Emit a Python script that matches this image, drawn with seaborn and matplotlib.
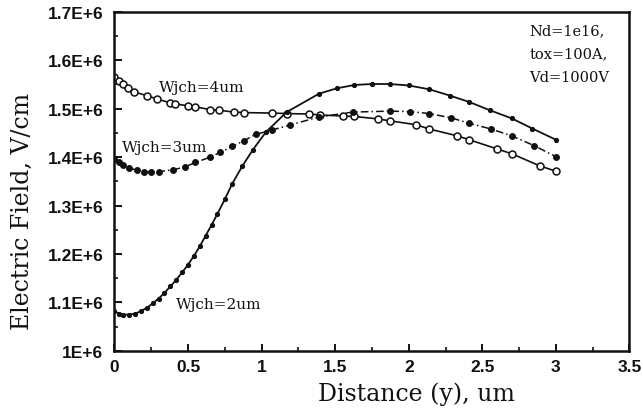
import matplotlib
matplotlib.use("Agg")
import matplotlib.pyplot as plt
import seaborn as sns
import pandas as pd
from matplotlib.ticker import MultipleLocator

# Channel width 4 um (open circles)
x_4um = [0.0, 0.03, 0.06, 0.09, 0.13, 0.22, 0.29, 0.38, 0.41, 0.5, 0.55, 0.65, 0.71, 0.81, 0.88,
         1.07, 1.17, 1.32, 1.40, 1.55, 1.63, 1.79, 1.87, 2.05, 2.14, 2.33, 2.41, 2.60, 2.70,
         2.89, 3.0]
y_4um = [1.566e6, 1.558e6, 1.550e6, 1.543e6, 1.535e6, 1.527e6, 1.520e6, 1.512e6, 1.510e6,
         1.506e6, 1.504e6, 1.498e6, 1.497e6, 1.493e6, 1.492e6, 1.491e6, 1.490e6, 1.489e6,
         1.487e6, 1.485e6, 1.484e6, 1.479e6, 1.475e6, 1.467e6, 1.458e6, 1.444e6, 1.436e6,
         1.417e6, 1.407e6, 1.382e6, 1.371e6]

# Channel width 3 um (filled dots, dash-dot)
x_3um = [0.0, 0.03, 0.06, 0.1, 0.15, 0.2, 0.25, 0.3, 0.4, 0.48, 0.55, 0.65, 0.72, 0.8, 0.88, 0.96,
         1.07, 1.19, 1.39, 1.62, 1.87, 2.01, 2.14, 2.29, 2.41, 2.56, 2.70, 2.85, 3.0]
y_3um = [1.396e6, 1.390e6, 1.384e6, 1.378e6, 1.373e6, 1.370e6, 1.369e6, 1.370e6, 1.374e6, 1.380e6,
         1.389e6, 1.400e6, 1.410e6, 1.422e6, 1.434e6, 1.447e6, 1.456e6, 1.466e6, 1.483e6, 1.493e6,
         1.495e6, 1.494e6, 1.490e6, 1.481e6, 1.470e6, 1.458e6, 1.444e6, 1.424e6, 1.401e6]

# Channel width 2 um (small filled dots)
x_2um = [0.0, 0.03, 0.06, 0.1, 0.14, 0.18, 0.22, 0.26, 0.3, 0.34, 0.38, 0.42, 0.46, 0.5, 0.54, 0.58,
         0.62, 0.66, 0.7, 0.75, 0.8, 0.87, 0.94, 1.03, 1.17, 1.39, 1.51, 1.63, 1.75, 1.87, 2.0,
         2.14, 2.28, 2.41, 2.55, 2.70, 2.84, 3.0]
y_2um = [1.082e6, 1.077e6, 1.075e6, 1.075e6, 1.077e6, 1.082e6, 1.089e6, 1.098e6, 1.108e6, 1.120e6,
         1.133e6, 1.147e6, 1.162e6, 1.178e6, 1.196e6, 1.216e6, 1.238e6, 1.260e6, 1.283e6, 1.313e6,
         1.345e6, 1.382e6, 1.415e6, 1.452e6, 1.493e6, 1.531e6, 1.542e6, 1.549e6, 1.551e6, 1.551e6,
         1.548e6, 1.540e6, 1.527e6, 1.514e6, 1.497e6, 1.480e6, 1.459e6, 1.436e6]

series_labels = ["Wjch=4um", "Wjch=3um", "Wjch=2um"]
condition_lines = ["Nd=1e16,", "tox=100A,", "Vd=1000V"]
x_ticks = [0, 0.5, 1, 1.5, 2, 2.5, 3, 3.5]
y_ticks = [1.0e6, 1.1e6, 1.2e6, 1.3e6, 1.4e6, 1.5e6, 1.6e6, 1.7e6]
y_tick_labels = ["1E+6", "1.1E+6", "1.2E+6", "1.3E+6", "1.4E+6", "1.5E+6", "1.6E+6", "1.7E+6"]

sns.set_theme(style="white")
plt.rcParams["font.family"] = ["Liberation Sans", "DejaVu Sans"]

fig = plt.figure(figsize=(6.43, 4.14), dpi=100)
ax = fig.add_axes([0.178, 0.150, 0.801, 0.819])

ink = "#111111"
df4 = pd.DataFrame({"x": x_4um, "y": y_4um})
df3 = pd.DataFrame({"x": x_3um, "y": y_3um})
df2 = pd.DataFrame({"x": x_2um, "y": y_2um})

sns.lineplot(data=df4, x="x", y="y", ax=ax, color=ink, lw=1.2, sort=False, estimator=None,
             marker="o", markersize=5, markerfacecolor="white", markeredgecolor=ink,
             markeredgewidth=1.1)
sns.lineplot(data=df3, x="x", y="y", ax=ax, color=ink, lw=1.1, sort=False, estimator=None,
             linestyle=(0, (5, 2, 1, 2)), marker="o", markersize=4.2, markerfacecolor=ink,
             markeredgecolor=ink)
sns.lineplot(data=df2, x="x", y="y", ax=ax, color=ink, lw=1.3, sort=False, estimator=None,
             marker="o", markersize=3, markerfacecolor=ink, markeredgecolor=ink)

ax.set_xlim(0, 3.5)
ax.set_ylim(1.0e6, 1.7e6)
ax.set_xticks(x_ticks)
ax.set_xticklabels([f"{v:g}" for v in x_ticks])
ax.xaxis.set_minor_locator(MultipleLocator(0.25))
ax.set_yticks(y_ticks)
ax.set_yticklabels(y_tick_labels)
ax.yaxis.set_minor_locator(MultipleLocator(0.05e6))

for side in ["left", "right", "top", "bottom"]:
    ax.spines[side].set_visible(True)
    ax.spines[side].set_color(ink)
    ax.spines[side].set_linewidth(1.8)

ax.tick_params(axis="x", which="major", direction="in", length=5, width=1.4, colors=ink,
               labelsize=12.5, pad=6, bottom=True)
ax.tick_params(axis="x", which="minor", direction="in", length=3, width=1.2, colors=ink, bottom=True)
ax.tick_params(axis="y", which="major", direction="in", length=6, width=1.4, colors=ink,
               labelsize=12.5, pad=8, left=True)
ax.tick_params(axis="y", which="minor", direction="in", length=3, width=1.2, colors=ink, left=True)
for lab in ax.get_xticklabels() + ax.get_yticklabels():
    lab.set_fontweight("bold")
    lab.set_color(ink)

serif = ["DejaVu Serif"]
ax.set_xlabel("Distance (y), um", family=serif, fontsize=17, color=ink, labelpad=5, x=0.586)
ax.set_ylabel("Electric Field, V/cm", family=serif, fontsize=17, color=ink, labelpad=10, y=0.413)

ax.text(0.30, 1.545e6, series_labels[0], family=serif, fontsize=11, color=ink, va="center")
ax.text(0.05, 1.420e6, series_labels[1], family=serif, fontsize=11, color=ink, va="center")
ax.text(0.42, 1.097e6, series_labels[2], family=serif, fontsize=11, color=ink, va="center")

ax.text(2.82, 1.677e6, "\n".join(condition_lines), family=serif, fontsize=10.5, color=ink,
        va="top", ha="left", linespacing=1.85)

ax.grid(False)
fig.savefig("out.png", dpi=100, facecolor="white")
